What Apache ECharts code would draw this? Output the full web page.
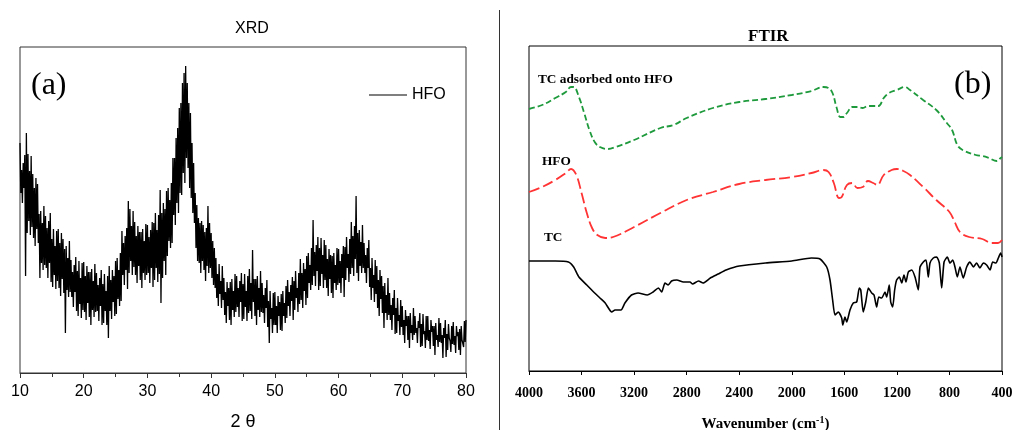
<!DOCTYPE html>
<html>
<head>
<meta charset="utf-8">
<script src="https://cdn.jsdelivr.net/npm/echarts@6/dist/echarts.min.js"></script>
<style>
  html, body { margin: 0; padding: 0; background: #fff; }
  #chart { width: 1014px; height: 430px; }
</style>
</head>
<body>
<div id="chart"></div>
<script>
// XRD: 2θ from 10 to 80, one value every 0.125 deg
const xrdStart = 10;
const xrdStep = 0.125;
const xrdIntensity = [
  230, 180, 203, 170, 210, 185, 218, 97,   240, 140, 219, 152, 202, 138, 217, 146,
  199, 135, 185, 127, 195, 144, 189, 130,  159, 95, 162, 110, 150, 103, 167, 108,
  157, 105, 145, 95, 152, 110, 160, 91,    134, 86, 144, 98, 127, 84, 142, 92,
  144, 85, 130, 77, 140, 94, 134, 80,      124, 40, 127, 83, 115, 76, 132, 81,
  113, 76, 101, 66, 108, 81, 116, 62,      102, 57, 112, 69, 95, 55, 110, 63,
  111, 61, 97, 53, 107, 70, 101, 56,       101, 48, 104, 63, 92, 56, 109, 61,
  100, 62, 88, 52, 95, 67, 103, 48,        89, 50, 99, 62, 82, 48, 97, 35,
  107, 62, 93, 54, 103, 71, 97, 57,        112, 59, 115, 74, 103, 67, 120, 72,
  142, 98, 130, 88, 137, 103, 145, 84,     172, 100, 164, 112, 147, 98, 162, 106,
  151, 98, 137, 90, 147, 107, 141, 93,     141, 85, 144, 100, 132, 93, 149, 98,
  148, 100, 136, 90, 143, 105, 151, 86,    150, 93, 160, 105, 143, 91, 158, 99,
  183, 70, 160, 95, 170, 112, 164, 98,     182, 117, 185, 132, 173, 125, 190, 130,
  215, 158, 215, 148, 235, 170, 245, 160,  265, 180, 270, 178, 290, 200, 300, 190,
  307, 215, 290, 205, 270, 185, 260, 175,  230, 160, 210, 150, 180, 125, 168, 112,
  155, 110, 150, 100, 152, 112, 148, 103,  141, 92, 145, 107, 167, 100, 150, 105,
  140, 95, 132, 88, 125, 85, 115, 75,      99, 67, 109, 79, 92, 65, 107, 73,
  95, 58, 81, 50, 91, 67, 85, 53,          91, 48, 94, 63, 82, 56, 99, 61,
  97, 66, 85, 56, 92, 71, 100, 52,         89, 54, 99, 66, 82, 52, 97, 60,
  104, 62, 90, 54, 123, 71, 94, 57,        94, 48, 97, 63, 85, 56, 102, 61,
  90, 60, 78, 50, 85, 65, 93, 46,          72, 30, 82, 54, 65, 40, 80, 48,
  81, 48, 67, 40, 77, 57, 71, 43,          79, 42, 82, 57, 70, 50, 87, 55,
  93, 67, 81, 57, 88, 72, 96, 53,          92, 63, 102, 75, 85, 61, 100, 69,
  114, 73, 100, 65, 110, 82, 104, 68,      117, 75, 120, 90, 108, 83, 125, 88,
  153, 97, 121, 87, 128, 102, 136, 83,     125, 87, 135, 99, 118, 85, 133, 93,
  128, 85, 114, 77, 124, 94, 118, 80,      117, 75, 120, 90, 108, 83, 125, 88,
  124, 90, 112, 80, 119, 95, 127, 76,      126, 93, 136, 105, 119, 91, 134, 99,
  151, 105, 137, 97, 147, 114, 177, 100,   140, 92, 143, 107, 131, 100, 148, 105,
  130, 100, 118, 90, 125, 105, 133, 86,    105, 73, 115, 85, 98, 71, 113, 79,
  107, 65, 93, 57, 103, 74, 97, 60,        87, 45, 90, 60, 78, 53, 95, 58,
  80, 53, 68, 43, 75, 58, 83, 39,          65, 40, 75, 52, 58, 38, 73, 46,
  67, 38, 53, 30, 63, 47, 57, 33,          57, 25, 60, 40, 48, 33, 65, 38,
  57, 40, 45, 30, 52, 45, 60, 26,          49, 27, 59, 39, 42, 25, 57, 33,
  57, 32, 43, 24, 53, 41, 47, 27,          47, 18, 50, 33, 38, 26, 55, 31,
  50, 30, 38, 15, 45, 35, 53, 16,          39, 23, 49, 35, 32, 21, 47, 29,
  51, 28, 37, 20, 47, 37, 41, 23,          44, 18, 47, 33, 35, 26, 52, 31,
  53
];

// FTIR: [wavenumber, offset signal]
const tcAdsorbed = [
  [4000, 262], [3900, 266], [3800, 273], [3720, 279], [3680, 284], [3660, 284], [3620, 274],
  [3580, 258], [3540, 241], [3500, 229], [3460, 224], [3400, 222], [3340, 224], [3200, 231],
  [3000, 243], [2900, 246], [2800, 253], [2600, 263], [2400, 269], [2200, 272], [2000, 276],
  [1850, 280], [1760, 284], [1720, 283], [1690, 278], [1660, 264], [1630, 254], [1610, 254],
  [1580, 258], [1540, 264], [1500, 264], [1460, 263], [1420, 265], [1380, 265], [1340, 265],
  [1300, 273], [1260, 278], [1200, 281], [1140, 284], [1100, 281], [1000, 271], [900, 261],
  [820, 248], [780, 241], [740, 226], [700, 221], [600, 216], [550, 215], [500, 213],
  [440, 210], [410, 213], [400, 214]
];
const hfo = [
  [4000, 179], [3900, 184], [3800, 191], [3720, 198], [3680, 202], [3640, 196], [3600, 178],
  [3560, 158], [3520, 143], [3480, 136], [3420, 133], [3360, 134], [3200, 144], [3000, 158],
  [2800, 171], [2600, 179], [2400, 187], [2200, 191], [2000, 194], [1850, 198], [1760, 201],
  [1720, 199], [1680, 188], [1640, 173], [1620, 174], [1580, 186], [1540, 188], [1500, 183],
  [1460, 184], [1420, 190], [1380, 188], [1350, 186], [1300, 196], [1240, 201], [1200, 202],
  [1150, 200], [1100, 196], [1000, 184], [900, 171], [800, 159], [760, 149], [720, 139],
  [650, 134], [550, 132], [480, 128], [430, 128], [400, 131]
];
const tc = [
  [4000, 110], [3800, 110], [3700, 109], [3660, 104], [3620, 94], [3560, 86], [3500, 78],
  [3460, 73], [3420, 68], [3370, 59], [3345, 61], [3300, 61], [3270, 68], [3220, 76],
  [3170, 78], [3100, 76], [3055, 79], [3015, 83], [2990, 79], [2965, 88], [2940, 86],
  [2915, 90], [2875, 91], [2825, 89], [2775, 89], [2755, 87], [2710, 90], [2675, 88],
  [2620, 93], [2560, 97], [2500, 101], [2400, 105], [2200, 108], [2000, 110], [1850, 113],
  [1785, 112], [1734, 104], [1709, 91], [1689, 71], [1671, 56], [1646, 59], [1620, 53],
  [1612, 46], [1595, 54], [1582, 49], [1557, 61], [1532, 68], [1506, 69], [1486, 83],
  [1475, 81], [1456, 59], [1437, 69], [1417, 83], [1392, 78], [1374, 76], [1354, 64],
  [1338, 74], [1316, 73], [1290, 79], [1278, 74], [1258, 86], [1247, 69], [1232, 64],
  [1217, 81], [1202, 91], [1181, 94], [1163, 88], [1146, 96], [1131, 89], [1113, 99],
  [1087, 101], [1062, 94], [1037, 81], [1024, 104], [999, 109], [978, 111], [961, 94],
  [948, 108], [923, 113], [897, 114], [877, 108], [859, 83], [841, 109], [816, 114],
  [796, 108], [775, 111], [758, 104], [740, 94], [720, 104], [695, 93], [669, 104],
  [644, 109], [618, 104], [593, 108], [568, 103], [542, 108], [517, 106], [491, 101],
  [471, 109], [446, 108], [428, 113], [410, 118], [400, 114]
];

const xrdData = xrdIntensity.map((v, i) => [xrdStart + i * xrdStep, v]);
const serif = "'Liberation Serif', 'DejaVu Serif', serif";
const sans = "'Liberation Sans', Arial, sans-serif";

const chart = echarts.init(document.getElementById("chart"));
chart.setOption({
  animation: false,
  backgroundColor: "#fff",
  grid: [
    { left: 20, top: 47, width: 446, height: 326, outerBoundsMode: "none", containLabel: false,
      show: true, borderColor: "#333", borderWidth: 1 },
    { left: 529, top: 46, width: 473, height: 325, outerBoundsMode: "none", containLabel: false,
      show: true, borderColor: "#000", borderWidth: 1 },
  ],
  legend: {
    data: ["HFO"],
    left: 364,
    top: 82,
    icon: "rect",
    itemWidth: 38,
    itemHeight: 1,
    itemGap: 6,
    textStyle: { fontFamily: sans, fontSize: 16, color: "#000" },
  },
  xAxis: [
    {
      gridIndex: 0,
      type: "value",
      min: 10,
      max: 80,
      interval: 10,
      name: "2 θ",
      nameLocation: "middle",
      nameGap: 40,
      nameTextStyle: { fontFamily: sans, fontSize: 18, color: "#000" },
      axisLine: { lineStyle: { color: "#333", width: 1 } },
      axisTick: { show: true, length: 5, lineStyle: { color: "#333" } },
      minorTick: { show: true, splitNumber: 2, length: 4, lineStyle: { color: "#333" } },
      axisLabel: { fontFamily: sans, fontSize: 16, color: "#000", margin: 11 },
      splitLine: { show: false },
    },
    {
      gridIndex: 1,
      type: "value",
      min: 400,
      max: 4000,
      interval: 400,
      inverse: true,
      name: "{a|Wavenumber (cm}{s|-1}{a|)}",
      nameLocation: "middle",
      nameGap: 44,
      nameTextStyle: {
        rich: {
          a: { fontFamily: serif, fontSize: 15, fontWeight: "bold", color: "#000" },
          s: { fontFamily: serif, fontSize: 10, fontWeight: "bold", color: "#000", verticalAlign: "top", padding: [0, 0, 8, 0] },
        },
      },
      axisLine: { lineStyle: { color: "#000", width: 1 } },
      axisTick: { show: true, length: 4, lineStyle: { color: "#000" } },
      axisLabel: {
        fontFamily: serif, fontSize: 14, fontWeight: "bold", color: "#000", margin: 15,
        formatter: (v) => String(v),
      },
      splitLine: { show: false },
    },
  ],
  yAxis: [
    { gridIndex: 0, type: "value", min: 0, max: 326, show: false },
    { gridIndex: 1, type: "value", min: 0, max: 325, show: false },
  ],
  series: [
    {
      name: "HFO",
      type: "line",
      xAxisIndex: 0,
      yAxisIndex: 0,
      data: xrdData,
      symbol: "none",
      lineStyle: { color: "#000", width: 1.3 },
      itemStyle: { color: "#000" },
    },
    {
      name: "TC adsorbed onto HFO",
      type: "line",
      xAxisIndex: 1,
      yAxisIndex: 1,
      data: tcAdsorbed,
      symbol: "none",
      smooth: 0.4,
      lineStyle: { color: "#1e9a3c", width: 1.8, type: [6, 3] },
    },
    {
      name: "HFO (FTIR)",
      type: "line",
      xAxisIndex: 1,
      yAxisIndex: 1,
      data: hfo,
      symbol: "none",
      smooth: 0.4,
      lineStyle: { color: "#ff3333", width: 1.8, type: [11, 4] },
    },
    {
      name: "TC",
      type: "line",
      xAxisIndex: 1,
      yAxisIndex: 1,
      data: tc,
      symbol: "none",
      smooth: 0.2,
      lineStyle: { color: "#000", width: 1.6 },
    },
  ],
  graphic: [
    { type: "line", shape: { x1: 499.5, y1: 10, x2: 499.5, y2: 430 }, style: { stroke: "#333", lineWidth: 1 } },
    { type: "text", left: 235, top: 21, style: { text: "XRD", fontFamily: sans, fontSize: 16, fill: "#000" } },
    { type: "text", left: 748, top: 28, style: { text: "FTIR", fontFamily: serif, fontSize: 17, fontWeight: "bold", fill: "#000" } },
    { type: "text", left: 31, top: 70, style: { text: "(a)", fontFamily: serif, fontSize: 32, fill: "#000" } },
    { type: "text", left: 954, top: 69, style: { text: "(b)", fontFamily: serif, fontSize: 32, fill: "#000" } },
    { type: "text", left: 538, top: 73, style: { text: "TC adsorbed onto HFO", fontFamily: serif, fontSize: 13.3, fontWeight: "bold", fill: "#000" } },
    { type: "text", left: 542, top: 155, style: { text: "HFO", fontFamily: serif, fontSize: 13.3, fontWeight: "bold", fill: "#000" } },
    { type: "text", left: 544, top: 231, style: { text: "TC", fontFamily: serif, fontSize: 13.3, fontWeight: "bold", fill: "#000" } },
  ],
});
</script>
</body>
</html>
